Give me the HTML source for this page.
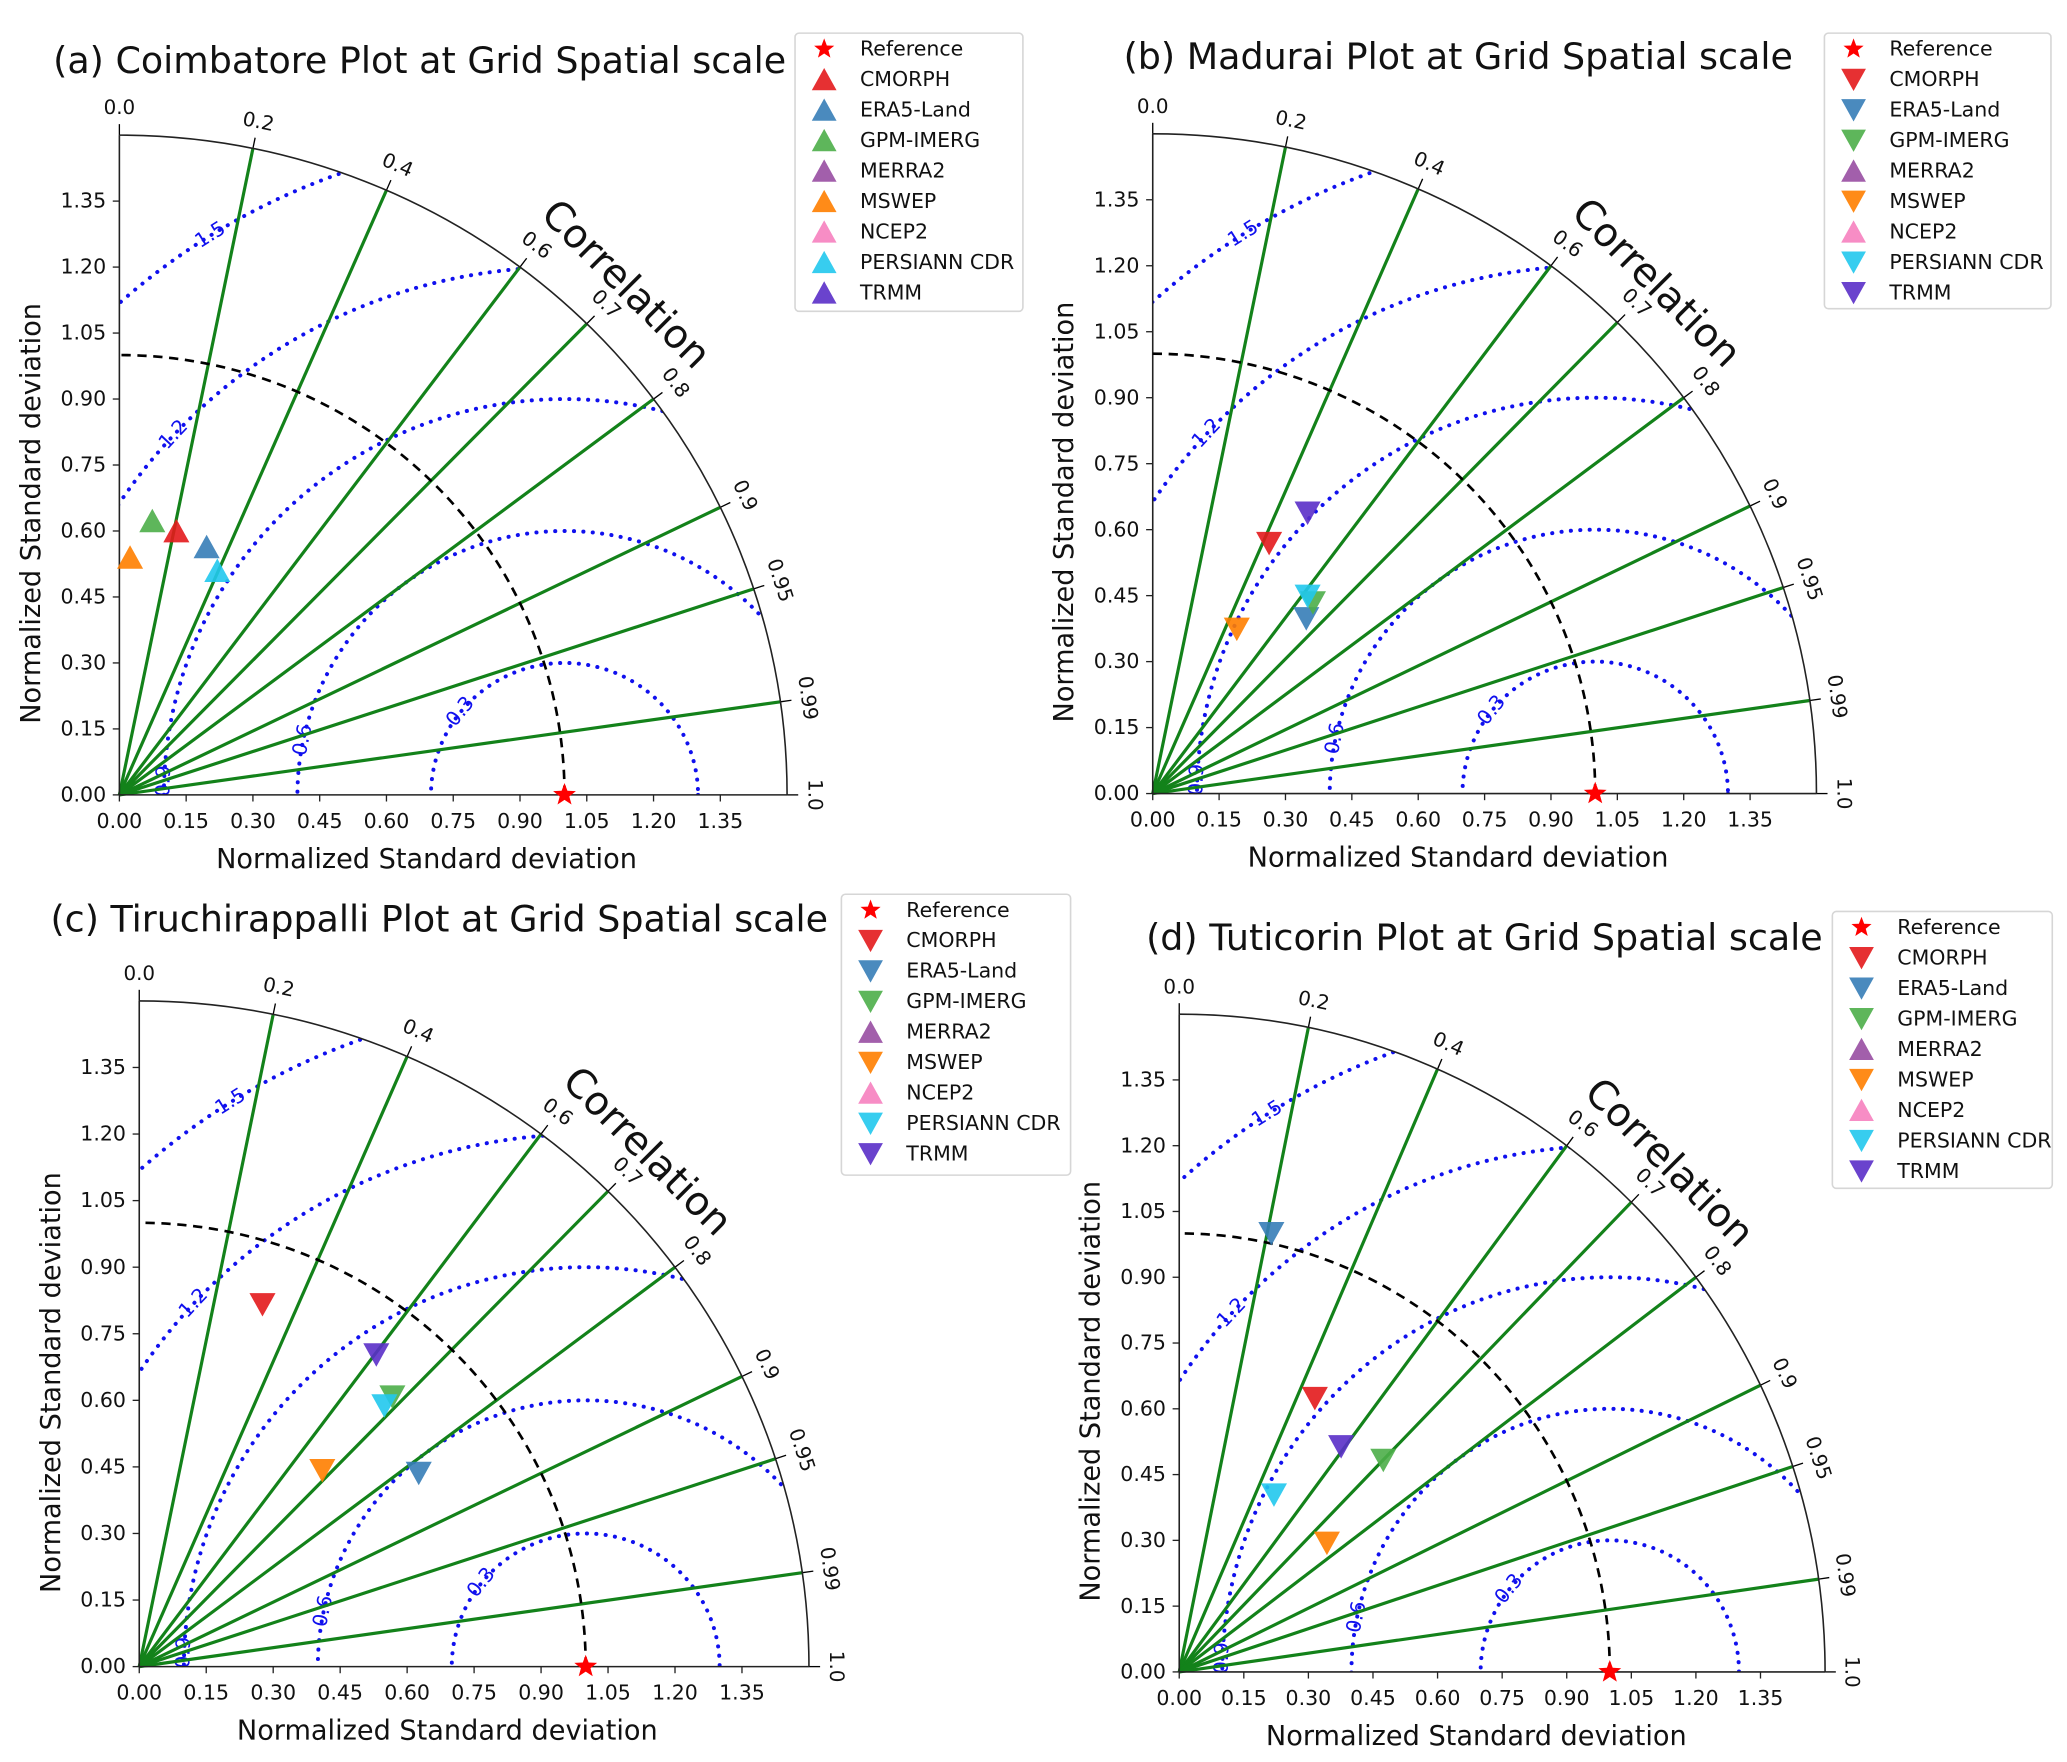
<!DOCTYPE html>
<html><head><meta charset="utf-8"><style>
html,body{margin:0;padding:0;background:#fff;overflow:hidden;width:2067px;height:1762px;}
svg{display:block;font-family:"DejaVu Sans","Liberation Sans",sans-serif;}
</style></head><body>
<svg id="chart" width="2067" height="1762" viewBox="0 0 1560 1330" xmlns="http://www.w3.org/2000/svg"></svg>
<script>
// ---- data ----
const seriesNames = ["CMORPH","ERA5-Land","GPM-IMERG","MERRA2","MSWEP","NCEP2","PERSIANN CDR","TRMM"];
const seriesColors = ["#e41a1c","#377eb8","#4daf4a","#984ea3","#ff7f00","#f781bf","#22c8ee","#5a2fc8"];
const panelTitles = ["(a) Coimbatore Plot at Grid Spatial scale","(b) Madurai Plot at Grid Spatial scale","(c) Tiruchirappalli Plot at Grid Spatial scale","(d) Tuticorin Plot at Grid Spatial scale"];
const stdTicks = [0,0.15,0.30,0.45,0.60,0.75,0.90,1.05,1.20,1.35];
const corrTicks = [0.0,0.2,0.4,0.6,0.7,0.8,0.9,0.95,0.99,1.0];
const rmsRadii = [0.3,0.6,0.9,1.2,1.5];
// normalized std x-component (std*corr) and y-component per panel; null = not plotted
const panelAX = [0.128,0.196,0.074,null,0.024,null,0.22,null];
const panelAY = [0.60,0.564,0.623,null,0.54,null,0.51,null];
const panelBX = [0.263,0.347,0.362,null,0.19,null,0.35,0.35];
const panelBY = [0.569,0.398,0.434,null,0.374,null,0.449,0.638];
const panelCX = [0.276,0.626,0.567,null,0.41,null,0.549,0.531];
const panelCY = [0.816,0.436,0.608,null,0.442,null,0.588,0.703];
const panelDX = [0.315,0.214,0.474,null,0.343,null,0.22,0.376];
const panelDY = [0.624,1.0,0.483,null,0.294,null,0.404,0.514];
const refStd = [1.0,1.0,1.0,1.0];

const NS="http://www.w3.org/2000/svg";
const svg=document.getElementById('chart');
function mk(tag,attrs,parent){const e=document.createElementNS(NS,tag);for(const k in attrs)e.setAttribute(k,attrs[k]);(parent||svg).appendChild(e);return e;}

const panels=[
 {ox:90,oy:600,ux:336,uy:332,tx:40,ty:55,lx:600,ly:25,lw:172,lh:210,up:true,X:panelAX,Y:panelAY},
 {ox:870,oy:599,ux:334,uy:332,tx:848,ty:52,lx:1377,ly:25,lw:171,lh:208,up:false,X:panelBX,Y:panelBY},
 {ox:105,oy:1258,ux:337,uy:335,tx:38,ty:703,lx:635,ly:675,lw:173,lh:212,up:false,X:panelCX,Y:panelCY},
 {ox:890,oy:1262,ux:325,uy:331,tx:865,ty:717,lx:1383,ly:688,lw:166,lh:209,up:false,X:panelDX,Y:panelDY}
];
const legendUp=[false,false,false,true,false,true,false,false];

function tri(g,cx,cy,s,up,color){
  const h=s*0.9;
  const pts=up?`${cx-s/2},${cy+h/2} ${cx+s/2},${cy+h/2} ${cx},${cy-h/2}`:`${cx-s/2},${cy-h/2} ${cx+s/2},${cy-h/2} ${cx},${cy+h/2}`;
  return mk('polygon',{points:pts,fill:color,stroke:color,'stroke-width':1,opacity:0.9},g);
}
function star(g,cx,cy,r,color){
  let p=[];for(let i=0;i<10;i++){const a=-Math.PI/2+i*Math.PI/5;const rr=i%2?r*0.42:r;p.push((cx+rr*Math.cos(a)).toFixed(1)+','+(cy+rr*Math.sin(a)).toFixed(1));}
  return mk('polygon',{points:p.join(' '),fill:color},g);
}

panels.forEach((P,pi)=>{
  const g=mk('g',{});
  
  
  const sx=v=>P.ox+v*P.ux, sy=v=>P.oy-v*P.uy;
  const px=(r,a)=>P.ox+r*P.ux*Math.cos(a), py=(r,a)=>P.oy-r*P.uy*Math.sin(a);
  const R=1.5;
  const cid='clip'+pi;
  const defs=mk('defs',{},g);
  const cp=mk('clipPath',{id:cid},defs);
  mk('path',{d:`M${P.ox},${P.oy} L${px(R,0)},${py(R,0)} A${R*P.ux},${R*P.uy} 0 0 0 ${px(R,Math.PI/2)},${py(R,Math.PI/2)} Z`},cp);
  const t=mk('text',{x:P.tx,y:P.ty,'font-size':27.5,fill:'#111'},g);t.textContent=panelTitles[pi];
  
  
  const rg=mk('g',{'clip-path':`url(#${cid})`},g);
  rmsRadii.forEach(r=>{
    const c=mk('ellipse',{cx:sx(1),cy:sy(0),rx:r*P.ux,ry:r*P.uy,fill:'none',stroke:'#1010ee','stroke-width':3,'stroke-dasharray':'0.1 7','stroke-linecap':'round'},rg);
    
    
  });
  const rmsAng={0.3:141,0.6:168,0.9:178,1.2:137,1.5:122};
  rmsRadii.forEach(r=>{
    const a=rmsAng[r]*Math.PI/180;
    const x=sx(1+r*Math.cos(a)), y=sy(r*Math.sin(a));
    const tt=mk('text',{x:x,y:y,'font-size':15,fill:'#1010ee','text-anchor':'middle','dominant-baseline':'middle',transform:`rotate(${-(rmsAng[r]-90)} ${x} ${y})`},g);
    tt.textContent=r.toFixed(1);
    
    
  });
  corrTicks.forEach(c=>{
    const a=Math.acos(c);
    if(c>0&&c<1){
      const l=mk('line',{x1:P.ox,y1:P.oy,x2:px(R,a),y2:py(R,a),stroke:'#13821a','stroke-width':2.4},g);
      
      
    }
    mk('line',{x1:px(R,a),y1:py(R,a),x2:px(R+0.025,a),y2:py(R+0.025,a),stroke:'#000','stroke-width':1},g);
    const lx=px(R+0.06,a), ly=py(R+0.06,a);
    const tt=mk('text',{x:lx,y:ly,'font-size':15,fill:'#111','text-anchor':'middle','dominant-baseline':'middle',transform:`rotate(${90-a*180/Math.PI} ${lx} ${ly})`},g);
    tt.textContent=(c===0.95||c===0.99)?c.toFixed(2):c.toFixed(1);
    
    
  });
  mk('path',{d:`M${px(R,0)},${py(R,0)} A${R*P.ux},${R*P.uy} 0 0 0 ${px(R,Math.PI/2)},${py(R,Math.PI/2)}`,fill:'none',stroke:'#222','stroke-width':1.2},g);
  mk('line',{x1:P.ox,y1:P.oy,x2:sx(R),y2:P.oy,stroke:'#222','stroke-width':1.2},g);
  mk('line',{x1:P.ox,y1:P.oy,x2:P.ox,y2:sy(R),stroke:'#222','stroke-width':1.2},g);
  mk('path',{d:`M${sx(1)},${sy(0)} A${P.ux},${P.uy} 0 0 0 ${P.ox},${sy(1)}`,fill:'none',stroke:'#000','stroke-width':2,'stroke-dasharray':'7 5'},g);
  stdTicks.forEach(v=>{
    mk('line',{x1:sx(v),y1:P.oy,x2:sx(v),y2:P.oy+5,stroke:'#222'},g);
    const a=mk('text',{x:sx(v),y:P.oy+25,'font-size':15.5,'text-anchor':'middle',fill:'#111'},g);a.textContent=v.toFixed(2);
    
    
    mk('line',{x1:P.ox-5,y1:sy(v),x2:P.ox,y2:sy(v),stroke:'#222'},g);
    const b=mk('text',{x:P.ox-10,y:sy(v)+5,'font-size':15.5,'text-anchor':'end',fill:'#111'},g);b.textContent=v.toFixed(2);
    
    
  });
  const xl=mk('text',{x:sx(0.69),y:P.oy+55,'font-size':20.5,'text-anchor':'middle',fill:'#111'},g);xl.textContent='Normalized Standard deviation';
  
  
  const yx=P.ox-60, yy=sy(0.64);
  const yl=mk('text',{x:yx,y:yy,'font-size':20.5,'text-anchor':'middle',fill:'#111',transform:`rotate(-90 ${yx} ${yy})`},g);yl.textContent='Normalized Standard deviation';
  
  
  const ca=Math.PI/4+0.01, cx=px(1.62,ca), cy=py(1.62,ca);
  const ct=mk('text',{x:cx,y:cy,'font-size':30,'text-anchor':'middle','dominant-baseline':'middle',fill:'#111',transform:`rotate(45 ${cx} ${cy})`},g);ct.textContent='Correlation';
  
  
  seriesNames.forEach((n,i)=>{
    if(P.X[i]==null)return;
    const m=tri(g,sx(P.X[i]),sy(P.Y[i]),18,P.up,seriesColors[i]);
    
    
  });
  const rs=star(g,sx(refStd[pi]),sy(0),9,'#f00');
  
  
  const lg=mk('g',{},g);
  
  
  mk('rect',{x:P.lx,y:P.ly,width:P.lw,height:P.lh,rx:3,fill:'#fff',stroke:'#d6d6d6','stroke-width':1.2},lg);
  const rows=['Reference'].concat(seriesNames);
  rows.forEach((n,i)=>{
    const yy=P.ly+12+i*23, mx=P.lx+22;
    if(i===0)star(lg,mx,yy,8,'#f00');
    else tri(lg,mx,yy,17,P.up?true:legendUp[i-1],seriesColors[i-1]);
    const tt=mk('text',{x:P.lx+49,y:yy+5,'font-size':15.5,fill:'#111'},lg);tt.textContent=n;
    
    
  });
});
</script>
</body></html>
